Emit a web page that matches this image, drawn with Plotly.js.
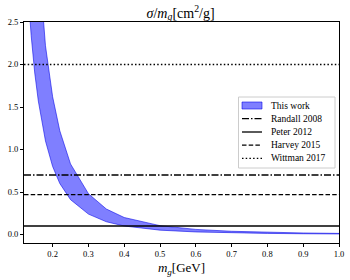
<!DOCTYPE html>
<html><head><meta charset="utf-8">
<script src="https://cdn.plot.ly/plotly-3.0.1.min.js"></script>
<style>html,body{margin:0;padding:0;background:#fff}#c{width:350px;height:280px}</style>
</head><body><div id="c"></div>
<script>
// band of "This work"
const mLow = [0.13, 0.14, 0.15, 0.16, 0.18, 0.20, 0.22, 0.25, 0.30, 0.35, 0.40, 0.50, 0.60, 0.70, 0.80, 0.90, 1.00];
const sigLow = [2.93, 2.34, 1.90, 1.57, 1.10, 0.80, 0.60, 0.41, 0.24, 0.15, 0.10, 0.051, 0.030, 0.019, 0.013, 0.0088, 0.0064];
const mUp = [0.15, 0.16, 0.17, 0.18, 0.20, 0.22, 0.25, 0.30, 0.35, 0.40, 0.50, 0.60, 0.70, 0.80, 0.90, 1.00];
const sigUp = [3.84, 3.16, 2.63, 2.22, 1.62, 1.22, 0.83, 0.48, 0.30, 0.20, 0.104, 0.060, 0.038, 0.025, 0.018, 0.013];
// reference limits
const refNames = ["Randall 2008", "Peter 2012", "Harvey 2015", "Wittman 2017"];
const refValues = [0.7, 0.1, 0.47, 2.0];
const refDash = ["7px,2px,1.5px,2px", "solid", "4.5px,2.2px", "1.5px,2.2px"];
const xSpan = [0.12, 1.0];
const bandName = "This work";

const F = "Liberation Serif, Times New Roman, serif";
const W = 350, H = 280, ML = 24, MR = 11, MT = 22, MB = 37;
const PW = W - ML - MR, PH = H - MT - MB;
const px = v => (v - ML) / PW;       // pixel x -> paper
const py = v => (H - MB - v) / PH;   // pixel y -> paper

const traces = [];
const bx = mLow.concat(mUp.slice().reverse());
const by = sigLow.concat(sigUp.slice().reverse());
const bandFill = 'rgba(0,0,255,0.5)', bandLine = 'rgba(0,0,230,0.7)';
traces.push({x: bx, y: by, mode: 'lines', fill: 'toself', fillcolor: bandFill,
  line: {color: bandLine, width: 0.8}, name: bandName, showlegend: false});
refNames.forEach((n, i) => {
  traces.push({x: xSpan, y: [refValues[i], refValues[i]], mode: 'lines', name: n, showlegend: false,
    line: {color: 'black', width: 1.3, dash: refDash[i]}});
});

// custom compact legend (matplotlib-style)
const shapes = [], annotations = [];
const L = {x0: 238.5, x1: 335, y0: 97, y1: 168, sx0: 242, sx1: 262, tx: 269, rows: [105.5, 118.7, 132, 145.2, 158.4]};
shapes.push({type: 'rect', xref: 'paper', yref: 'paper', x0: px(L.x0), x1: px(L.x1), y0: py(L.y1), y1: py(L.y0),
  line: {color: '#cccccc', width: 1}, fillcolor: 'rgba(255,255,255,0.85)', layer: 'above'});
const labels = [bandName].concat(refNames);
labels.forEach((t, k) => {
  const yy = L.rows[k];
  if (k === 0) {
    shapes.push({type: 'rect', xref: 'paper', yref: 'paper', x0: px(L.sx0), x1: px(L.sx1), y0: py(yy + 3.5), y1: py(yy - 3.5),
      line: {color: bandLine, width: 0.8}, fillcolor: bandFill, layer: 'above'});
  } else {
    shapes.push({type: 'line', xref: 'paper', yref: 'paper', x0: px(L.sx0), x1: px(L.sx1), y0: py(yy), y1: py(yy),
      line: {color: 'black', width: 1.3, dash: refDash[k - 1]}, layer: 'above'});
  }
  annotations.push({xref: 'paper', yref: 'paper', x: px(L.tx), y: py(yy), xanchor: 'left', yanchor: 'middle',
    text: t, showarrow: false, font: {family: F, size: 9.5, color: '#000'}});
});

const layout = {
  width: W, height: H,
  margin: {l: ML, r: MR, t: MT, b: MB},
  paper_bgcolor: '#fff', plot_bgcolor: '#fff',
  font: {family: F, size: 8.5, color: '#000'},
  title: {text: '<i>σ</i>/<i>m<sub>g</sub></i>[cm<sup>2</sup>/g]', font: {family: F, size: 14},
    x: 0.516, xanchor: 'center', yref: 'container', y: 0.955, yanchor: 'middle'},
  xaxis: {range: [0.12, 1.0], tickvals: [0.2,0.3,0.4,0.5,0.6,0.7,0.8,0.9,1.0], tickformat: '.1f',
    ticks: 'outside', ticklen: 3, tickcolor: '#000', showgrid: false, zeroline: false,
    showline: true, linecolor: '#000', linewidth: 1, mirror: true,
    title: {text: '<i>m<sub>g</sub></i>[GeV]', font: {family: F, size: 13}, standoff: 4}},
  yaxis: {range: [-0.1, 2.5], tickvals: [0,0.5,1,1.5,2,2.5], tickformat: '.1f',
    ticks: 'outside', ticklen: 3, tickcolor: '#000', showgrid: false, zeroline: false,
    showline: true, linecolor: '#000', linewidth: 1, mirror: true},
  shapes: shapes, annotations: annotations,
  showlegend: false
};
Plotly.newPlot('c', traces, layout, {staticPlot: true, displayModeBar: false});
</script></body></html>
